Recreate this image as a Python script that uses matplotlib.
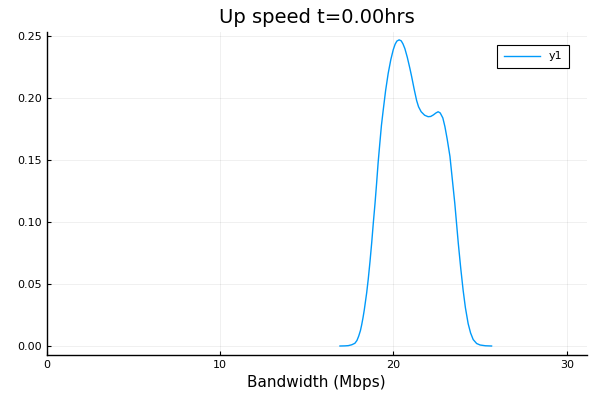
import matplotlib
matplotlib.use("Agg")
import matplotlib.pyplot as plt

# Bandwidth (Mbps) and density
bandwidth = [16.92, 17.20, 17.40, 17.60, 17.78, 17.90, 18.00, 18.10, 18.17, 18.25, 18.32,
             18.38, 18.46, 18.55, 18.65, 18.75, 18.84, 18.94, 19.03, 19.12, 19.22, 19.31,
             19.41, 19.55, 19.70, 19.85, 19.99, 20.10, 20.20, 20.33, 20.45, 20.55, 20.66,
             20.80, 20.95, 21.05, 21.20, 21.34, 21.45, 21.60, 21.80, 22.00, 22.15, 22.30,
             22.45, 22.58, 22.70, 22.85, 22.97, 23.10, 23.26, 23.40, 23.54, 23.64, 23.74,
             23.88, 24.02, 24.15, 24.31, 24.45, 24.60, 24.80, 25.00, 25.30, 25.66]
density = [0.0000, 0.0001, 0.0003, 0.0010, 0.0022, 0.0045, 0.0080, 0.0125, 0.0170, 0.0230,
           0.0290, 0.0350, 0.0430, 0.0540, 0.0680, 0.0835, 0.0990, 0.1150, 0.1310, 0.1480,
           0.1640, 0.1780, 0.1900, 0.2060, 0.2200, 0.2310, 0.2390, 0.2435, 0.2460, 0.2470,
           0.2462, 0.2438, 0.2400, 0.2330, 0.2240, 0.2175, 0.2070, 0.1980, 0.1930, 0.1890,
           0.1862, 0.1850, 0.1852, 0.1864, 0.1880, 0.1890, 0.1880, 0.1840, 0.1770, 0.1670,
           0.1530, 0.1340, 0.1150, 0.0990, 0.0830, 0.0630, 0.0450, 0.0310, 0.0180, 0.0105,
           0.0052, 0.0020, 0.0008, 0.0002, 0.0000]
series_label = "y1"
title = "Up speed t=0.00hrs"
xlabel = "Bandwidth (Mbps)"
xticks = [0, 10, 20, 30]
yticks = [0.00, 0.05, 0.10, 0.15, 0.20, 0.25]

fig = plt.figure(figsize=(6, 4), dpi=100)
ax = fig.add_axes([0.0775, 0.1125, 0.9005, 0.808])
ax.plot(bandwidth, density, color="#009AFA", lw=1.0, label=series_label)
ax.set_xlim(0, 31.15)
ax.set_ylim(-0.00726, 0.2535)
ax.set_xticks(xticks)
ax.set_xticklabels([str(t) for t in xticks])
ax.set_yticks(yticks)
ax.set_yticklabels([f"{t:.2f}" for t in yticks])
ax.grid(True, color="black", alpha=0.07, lw=0.6)
for s in ["top", "right"]:
    ax.spines[s].set_visible(False)
for s in ["left", "bottom"]:
    ax.spines[s].set_linewidth(1.0)
ax.tick_params(direction="in", length=3, width=0.8, labelsize=8, colors="black")
ax.set_xlabel(xlabel, fontsize=11)
ax.set_title(title, fontsize=14)
leg = ax.legend(loc="upper right", fontsize=8, fancybox=False, edgecolor="black",
                framealpha=1, borderpad=0.6, handlelength=3.2, bbox_to_anchor=(0.977, 0.977))
leg.get_frame().set_linewidth(0.8)
fig.savefig("out.png", dpi=100)
